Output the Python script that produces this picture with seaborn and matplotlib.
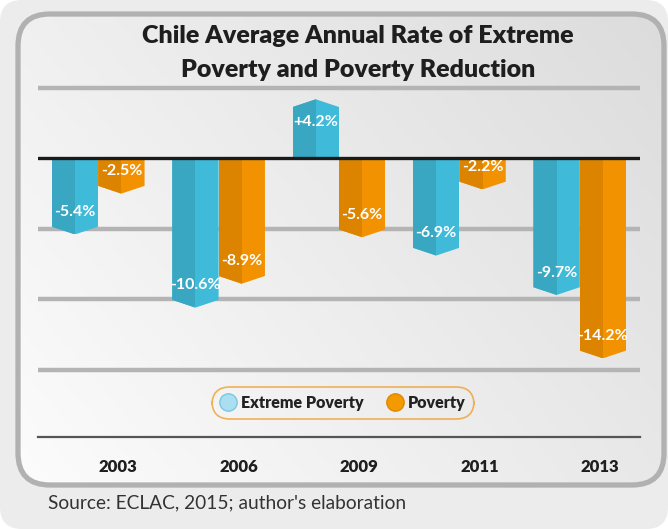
import numpy as np
import pandas as pd
import seaborn as sns
import matplotlib.pyplot as plt
from matplotlib.patches import FancyBboxPatch, Polygon, Rectangle
from matplotlib.transforms import ScaledTranslation
from matplotlib.lines import Line2D

# ---- data -------------------------------------------------------------
years = ["2003", "2006", "2009", "2011", "2013"]
series = ["Extreme Poverty", "Poverty"]
extreme_poverty = [-5.4, -10.6, 4.2, -6.9, -9.7]
poverty = [-2.5, -8.9, -5.6, -2.2, -14.2]
grid_values = [5, -5, -10, -15]

title_lines = ["Chile Average Annual Rate of Extreme", "Poverty and Poverty Reduction"]
source_note = "Source: ECLAC, 2015; author's elaboration"

df = pd.DataFrame({
    "year": years * 2,
    "series": [series[0]] * len(years) + [series[1]] * len(years),
    "rate": extreme_poverty + poverty,
})

# ---- style ------------------------------------------------------------
sns.set_theme(style="white")
plt.rcParams["font.family"] = ["Lato", "DejaVu Sans"]

blue_light, blue_dark = "#3fbbd9", "#39a7c2"
orange_light, orange_dark = "#f39200", "#dc8400"
shade = {blue_light: blue_dark, orange_light: orange_dark}

W, H = 6.68, 5.29
fig = plt.figure(figsize=(W, H), dpi=100)
fig.patch.set_facecolor("white")

# background layer in inch coordinates
bg = fig.add_axes([0, 0, 1, 1], zorder=-5)
bg.set_xlim(0, W)
bg.set_ylim(0, H)
bg.axis("off")
outer = FancyBboxPatch((0.0, 0.0), W, H, boxstyle="round,pad=0,rounding_size=0.22",
                       facecolor="#ececec", edgecolor="none")
bg.add_patch(outer)
panel_box = (0.18, 0.44, 6.46, 4.71)
panel = FancyBboxPatch(panel_box[:2], panel_box[2], panel_box[3],
                       boxstyle="round,pad=0,rounding_size=0.32",
                       facecolor="none", edgecolor="#b1b1b1", linewidth=3.8, zorder=3)
bg.add_patch(panel)
gx, gy = np.meshgrid(np.linspace(0, 1, 200), np.linspace(0, 1, 200))
grad = 0.62 * gx + 0.38 * gy
img = bg.imshow(grad, extent=(panel_box[0], panel_box[0] + panel_box[2],
                              panel_box[1] + panel_box[3], panel_box[1]),
                cmap=sns.blend_palette(["#fcfcfc", "#dcdcdc"], as_cmap=True),
                aspect="auto", zorder=2)
img.set_clip_path(panel)

# ---- main axes --------------------------------------------------------
top_px, bot_px, left_px, right_px = 80, 437, 38, 640
ax = fig.add_axes([left_px / 668, 1 - bot_px / 529,
                   (right_px - left_px) / 668, (bot_px - top_px) / 529])
ax.set_facecolor("none")

sns.barplot(data=df, x="year", y="rate", hue="series", order=years,
            hue_order=series, palette=[blue_light, orange_light],
            width=0.77, saturation=1, legend=False, ax=ax, zorder=3)

ax.set_ylim(-19.79, 5.57)
ax.set_xlim(-0.5, 4.5)

for g in grid_values:
    ax.axhline(g, color="#b4b4b4", lw=3.2, zorder=1)
ax.axhline(0, color="#1a1a1a", lw=2.4, zorder=5)

tip = 0.55
for bar in list(ax.patches):
    x, w, v = bar.get_x(), bar.get_width(), bar.get_height()
    if v == 0:
        continue
    s = 1 if v > 0 else -1
    shape = Polygon([(x, 0), (x + w, 0), (x + w, v - s * tip),
                     (x + w / 2, v), (x, v - s * tip)], closed=True,
                    transform=ax.transData)
    bar.set_clip_path(shape)
    bar.set_edgecolor("none")
    face = "#%02x%02x%02x" % tuple(int(round(c * 255)) for c in bar.get_facecolor()[:3])
    dark = shade.get(face, blue_dark if face.startswith("#3") else orange_dark)
    half = Rectangle((x, 0), w / 2, v, facecolor=dark, edgecolor="none", zorder=3.5)
    ax.add_patch(half)
    half.set_clip_path(shape)
    label = f"{v:+.1f}%" if v > 0 else f"{v:.1f}%"
    ax.annotate(label, (x + w / 2, v), xytext=(0, -16 * s), textcoords="offset points",
                ha="center", va="center", color="white", fontsize=11.5,
                fontweight="bold", zorder=6)

# axes dressing
for side in ["top", "left", "right"]:
    ax.spines[side].set_visible(False)
ax.spines["bottom"].set_color("#555555")
ax.spines["bottom"].set_linewidth(1.6)
ax.set_yticks([])
ax.set_xlabel("")
ax.set_ylabel("")
ax.tick_params(axis="x", length=0, pad=16, labelsize=12, labelcolor="#1e1e1e")
for t in ax.get_xticklabels():
    t.set_fontweight("heavy")
    t.set_transform(t.get_transform() + ScaledTranslation(0.2, 0, fig.dpi_scale_trans))

# legend
handles = [
    Line2D([], [], marker="o", ls="none", markersize=12.5,
           markerfacecolor="#a9dff0", markeredgecolor="#7cc8e0", markeredgewidth=1),
    Line2D([], [], marker="o", ls="none", markersize=12.5,
           markerfacecolor="#f39a00", markeredgecolor="#e08800", markeredgewidth=1),
]
leg = ax.legend(handles, series, loc="center",
                bbox_to_anchor=((343 - left_px) / (right_px - left_px),
                                (bot_px - 403) / (bot_px - top_px)),
                ncol=2, frameon=True, fancybox=True, handletextpad=0.3,
                columnspacing=1.5, borderpad=0.5, handlelength=1.0,
                prop={"weight": "heavy", "size": 11.5})
fr = leg.get_frame()
fr.set_edgecolor("#f0a030")
fr.set_facecolor("none")
fr.set_linewidth(1.2)
fr.set_boxstyle("round,pad=0,rounding_size=1.1")
for txt in leg.get_texts():
    txt.set_color("#222222")

# titles and note
fig.text(358 / 668, 1 - 36 / 529, title_lines[0], ha="center", va="center",
         fontsize=18, fontweight="heavy", color="#1e1e1e")
fig.text(358 / 668, 1 - 70 / 529, title_lines[1], ha="center", va="center",
         fontsize=18, fontweight="heavy", color="#1e1e1e")
fig.text(48 / 668, 1 - 503 / 529, source_note, ha="left", va="center",
         fontsize=13.8, color="#333333")

fig.savefig("out.png", dpi=100)
